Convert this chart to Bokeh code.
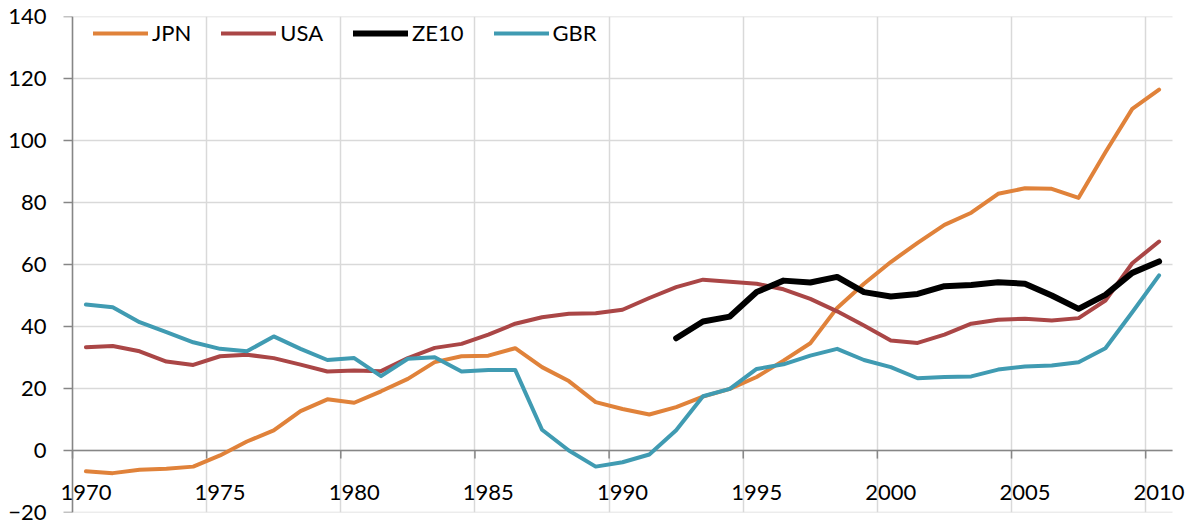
import math
from bokeh.plotting import figure
from bokeh.models import Range1d, FixedTicker, Legend, LegendItem, ColumnDataSource
from bokeh.core.properties import value
from bokeh.embed import file_html
from bokeh.resources import INLINE

NaN = float("nan")

years = list(range(1970, 2011))

jpn = [-6.7, -7.3, -6.2, -5.9, -5.2, -1.6, 2.9, 6.5, 12.7, 16.5, 15.4, 19.1,
       23.1, 28.5, 30.4, 30.6, 33.0, 26.9, 22.4, 15.6, 13.4, 11.6, 14.0, 17.4, 19.9, 23.7, 29.0,
       34.6, 46.0, 53.8, 60.8, 67.0, 72.8, 76.7, 82.8, 84.6, 84.4, 81.5, 96.2, 110.2, 116.4]

usa = [33.3, 33.7, 32.0, 28.7, 27.6, 30.4, 30.9, 29.8, 27.7, 25.5, 25.8, 25.6,
       29.8, 33.1, 34.4, 37.4, 40.9, 43.0, 44.1, 44.3, 45.4, 49.2, 52.7, 55.1, 54.4, 53.8, 52.0,
       48.9, 44.9, 40.3, 35.5, 34.7, 37.4, 40.9, 42.2, 42.5, 41.9, 42.7, 48.4, 60.4, 67.4]

ze10 = [NaN] * 22 + [36.2, 41.6, 43.2, 51.1, 54.8, 54.2, 56.0, 51.1, 49.7, 50.5,
                     53.0, 53.4, 54.3, 53.8, 50.0, 45.7, 50.2, 57.3, 61.0]

gbr = [47.1, 46.2, 41.4, 38.2, 34.9, 32.8, 32.0, 36.8, 32.8, 29.2, 29.8, 24.0,
       29.6, 30.1, 25.5, 26.0, 26.0, 6.7, 0.0, -5.2, -3.8, -1.3, 6.5, 17.5, 19.9, 26.3, 27.8,
       30.6, 32.8, 29.2, 26.9, 23.3, 23.7, 23.9, 26.1, 27.1, 27.4, 28.5, 33.0, 44.6, 56.5]

series_names = ["JPN", "USA", "ZE10", "GBR"]
series_values = [jpn, usa, ze10, gbr]
series_colors = ["#E0823A", "#AA4646", "#000000", "#409BB2"]
series_widths = [4, 4, 6, 4]

x_tick_years = list(range(1970, 2011, 5))
x_tick_labels = [str(y) for y in x_tick_years]
y_ticks = list(range(-20, 141, 20))

FONT = "Lato"
FSIZE = "22px"
AXIS_COL = "#868686"
GRID_COL = "#D9D9D9"

X0, X1 = 1970, 2011          # plotted category span
PX_PER_YEAR = 1100 / (X1 - X0)
PAD_L, PAD_R = 16, 18         # extra frame room (px) so edge labels are not clipped

xs = [y + 0.5 for y in years]  # categories centred between boundaries

p = figure(width=1194, height=524, output_backend="svg", toolbar_location=None,
           x_range=Range1d(X0 - PAD_L / PX_PER_YEAR, X1 + PAD_R / PX_PER_YEAR),
           y_range=Range1d(-20, 140),
           min_border_left=56, min_border_right=4, min_border_top=16, min_border_bottom=12)
p.frame_width = 1100 + PAD_L + PAD_R
p.frame_height = 496
p.outline_line_color = None
p.background_fill_color = "white"

# vertical grid via library grid
p.xgrid.ticker = FixedTicker(ticks=x_tick_years)
p.xgrid.grid_line_color = GRID_COL
p.xgrid.grid_line_width = 1.5
p.ygrid.visible = False

# horizontal grid lines between the category limits
p.segment(x0=[X0] * len(y_ticks), y0=y_ticks, x1=[X1] * len(y_ticks), y1=y_ticks,
          line_color=GRID_COL, line_width=1.5)

# y axis: labels from the library axis, line & ticks drawn at x = 1970
p.yaxis.ticker = FixedTicker(ticks=y_ticks)
p.yaxis.axis_line_color = None
p.yaxis.major_tick_line_color = None
p.yaxis.major_tick_out = 0
p.yaxis.major_tick_in = 0
p.yaxis.minor_tick_line_color = None
p.yaxis.major_label_standoff = 10
p.yaxis.major_label_text_font = FONT
p.yaxis.major_label_text_font_size = FSIZE
p.yaxis.major_label_text_color = "#000000"

tick_len = 9 / PX_PER_YEAR
p.segment(x0=[X0 - tick_len] * len(y_ticks), y0=y_ticks, x1=[X0] * len(y_ticks), y1=y_ticks,
          line_color=AXIS_COL, line_width=1.5)
p.segment(x0=[X0], y0=[-20], x1=[X0], y1=[140], line_color=AXIS_COL, line_width=1.5)

# category axis at y = 0
p.xaxis.visible = False
p.segment(x0=[X0], y0=[0], x1=[X1], y1=[0], line_color=AXIS_COL, line_width=1.5)
p.segment(x0=x_tick_years, y0=[0] * len(x_tick_years), x1=x_tick_years,
          y1=[-2.6] * len(x_tick_years), line_color=AXIS_COL, line_width=1.5)
p.text(x=[y + 0.5 for y in x_tick_years], y=[-13.6] * len(x_tick_years), text=x_tick_labels,
       text_align="center", text_baseline="middle", text_font=value(FONT),
       text_font_size=value(FSIZE), text_color="#000000")

items = []
for name, vals, col, w in zip(series_names, series_values, series_colors, series_widths):
    src = ColumnDataSource(dict(x=xs, y=vals))
    r = p.line("x", "y", source=src, line_color=col, line_width=w,
               line_join="round", line_cap="round")
    items.append(LegendItem(label=name, renderers=[r]))

legend = Legend(items=items, orientation="horizontal", location=(PAD_L + 21, 466),
                background_fill_alpha=0, border_line_color=None,
                glyph_width=55, glyph_height=20, label_standoff=4, spacing=30,
                padding=0, margin=0,
                label_text_font=FONT, label_text_font_size=FSIZE, label_text_color="#000000")
p.add_layout(legend)

open("out.html", "w").write(file_html(p, INLINE))
